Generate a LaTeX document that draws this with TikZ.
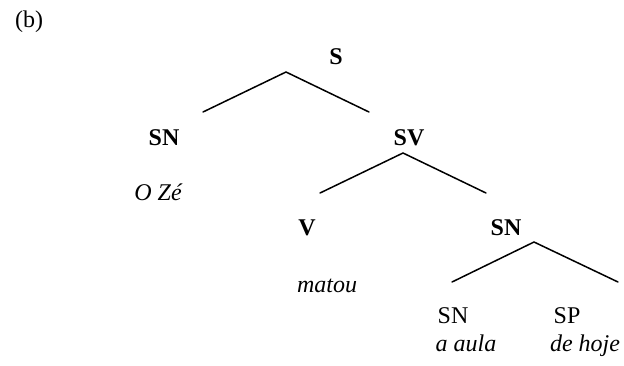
\documentclass[tikz,border=0pt]{standalone}
\usepackage{fontspec}
\setmainfont{Liberation Serif}
\begin{document}
\begin{tikzpicture}[x=0.5pt,y=-0.5pt,
  lab/.style={anchor=base,inner sep=0pt,font=\fontsize{12}{14}\selectfont},
  cat/.style={lab,font=\fontsize{12}{14}\selectfont\bfseries},
  word/.style={lab,font=\fontsize{12}{14}\selectfont\itshape},
  branch/.style={line width=0.75pt,line cap=round}]
\useasboundingbox (0,0) rectangle (624,365);
\node[lab] (b) at (29,27) {(b)};
\node[cat] (S) at (336,64) {S};
\node[cat] (SN1) at (164,145) {SN};
\node[cat] (SV) at (409,145) {SV};
\node[word] (oze) at (158,200) {O Zé};
\node[cat] (V) at (307,235) {V};
\node[cat] (SN2) at (506,235) {SN};
\node[word] (matou) at (327,292) {matou};
\node[lab] (SN3) at (453,323) {SN};
\node[lab] (SP) at (567,323) {SP};
\node[word] (aaula) at (466,351) {a aula};
\node[word] (dehoje) at (585,351) {de hoje};
\coordinate (a1) at (286,72);
\coordinate (l1) at (203,112);
\coordinate (r1) at (369,112);
\coordinate (a2) at (403,153);
\coordinate (l2) at (320,193);
\coordinate (r2) at (486,193);
\coordinate (a3) at (534,242);
\coordinate (l3) at (452,282);
\coordinate (r3) at (618,282);
\draw[branch] (l1) -- (a1) -- (r1);
\draw[branch] (l2) -- (a2) -- (r2);
\draw[branch] (l3) -- (a3) -- (r3);
\end{tikzpicture}
\end{document}
